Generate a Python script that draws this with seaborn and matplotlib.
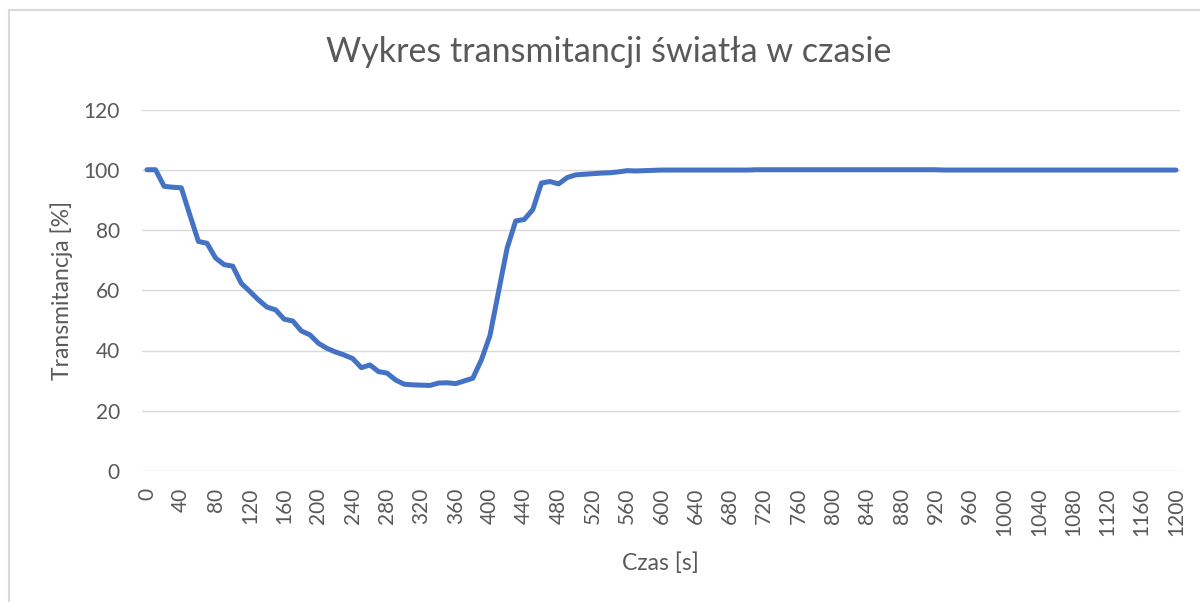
import matplotlib
matplotlib.use("Agg")
import matplotlib.pyplot as plt
from matplotlib.patches import Rectangle
import seaborn as sns
import pandas as pd

# ---- data ----
czas = list(range(0, 1201, 10))
transmitancja = [
    100.0, 100.0, 94.5, 94.2, 94.0, 85.0, 76.2, 75.6, 70.7, 68.5,
    68.0, 62.3, 59.6, 56.8, 54.4, 53.5, 50.4, 49.8, 46.5, 45.2,
    42.4, 40.7, 39.5, 38.5, 37.3, 34.3, 35.2, 33.0, 32.5, 30.2,
    28.8, 28.6, 28.5, 28.4, 29.2, 29.3, 29.0, 29.9, 30.8, 36.9,
    45.0, 59.5, 74.0, 83.0, 83.5, 86.8, 95.6, 96.1, 95.3, 97.4,
    98.3, 98.5, 98.7, 98.9, 99.0, 99.3, 99.7, 99.6, 99.7, 99.8,
    99.9, 99.9, 99.9, 99.9, 99.9, 99.9, 99.9, 99.9, 99.9, 99.9,
    99.9, 100.0, 100.0, 100.0, 100.0, 100.0, 100.0, 100.0, 100.0, 100.0,
    100.0, 100.0, 100.0, 100.0, 100.0, 100.0, 100.0, 100.0, 100.0, 100.0,
    100.0, 100.0, 100.0, 99.9, 99.9, 99.9, 99.9, 99.9, 99.9, 99.9,
    99.9, 99.9, 99.9, 99.9, 99.9, 99.9, 99.9, 99.9, 99.9, 99.9,
    99.9, 99.9, 99.9, 99.9, 99.9, 99.9, 99.9, 99.9, 99.9, 99.9,
    99.9,
]
x_ticks = list(range(0, 1201, 40))
y_ticks = [0, 20, 40, 60, 80, 100, 120]

title = "Wykres transmitancji światła w czasie"
x_label = "Czas [s]"
y_label = "Transmitancja [%]"

df = pd.DataFrame({"Czas": czas, "Transmitancja": transmitancja})

# ---- style ----
sns.set_theme(style="white")
plt.rcParams["font.family"] = ["Lato", "DejaVu Sans"]
txt = "#595959"
grid_c = "#D9D9D9"

W, H = 1200, 602
fig = plt.figure(figsize=(W / 100, H / 100), dpi=100)
fig.patch.set_facecolor("white")

ax_l, ax_r, ax_t, ax_b = 142, 1180, 109.5, 471
ax = fig.add_axes([ax_l / W, 1 - ax_b / H, (ax_r - ax_l) / W, (ax_b - ax_t) / H])

sns.lineplot(data=df, x="Czas", y="Transmitancja", ax=ax,
             color="#4472C4", linewidth=3.6, solid_joinstyle="round",
             solid_capstyle="round")

ax.set_xlim(-5.8, 1204.7)
ax.set_ylim(0, 120)
ax.set_xticks(x_ticks)
ax.set_xticklabels([str(v) for v in x_ticks], rotation=90)
ax.set_yticks(y_ticks)
ax.set_yticklabels([str(v) for v in y_ticks])

for s in ax.spines.values():
    s.set_visible(False)
ax.grid(axis="y", color=grid_c, linewidth=1.0)
ax.grid(axis="x", visible=False)
ax.set_axisbelow(True)

ax.tick_params(axis="x", length=0, pad=12, labelsize=15, labelcolor=txt)
ax.tick_params(axis="y", length=0, pad=16, labelsize=15, labelcolor=txt)
for lab in ax.get_xticklabels():
    lab.set_va("top")

ax.set_xlabel(x_label, fontsize=16.5, color=txt, va="center")
ax.set_ylabel(y_label, fontsize=16.5, color=txt, va="center")
aw = ax_r - ax_l
ah = ax_b - ax_t
ax.xaxis.set_label_coords((660 - ax_l) / aw, (ax_b - 563) / ah)
ax.yaxis.set_label_coords((62 - ax_l) / aw, 0.5)

fig.text(609 / W, 1 - 52 / H, title, ha="center", va="center",
         fontsize=24.5, color=txt)

# chart-area border (cropped at right/bottom)
fig.patches.append(Rectangle((9 / W, -0.1), 1.2, (1 - 10 / H) + 0.1,
                             transform=fig.transFigure, fill=False,
                             edgecolor=grid_c, linewidth=1.5))

fig.savefig("out.png", dpi=100, facecolor="white")
